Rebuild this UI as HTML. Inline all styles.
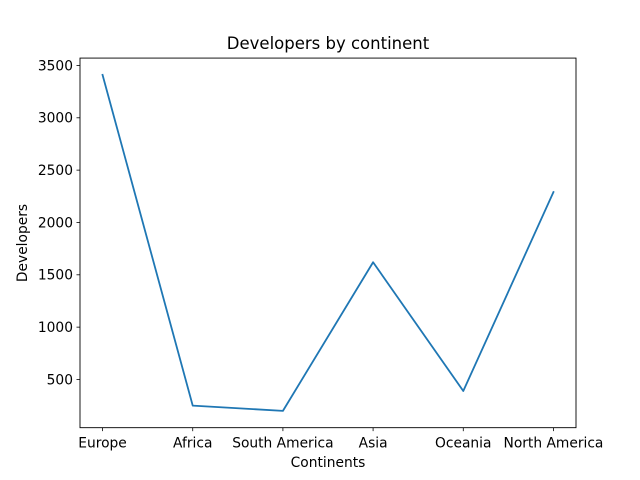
<!DOCTYPE html>
<html><head><meta charset="utf-8"><style>body{margin:0;background:#fff}svg{display:block}text{font-family:"DejaVu Sans","Liberation Sans",sans-serif;fill:#000}</style></head>
<body>
<svg id="chart" width="640" height="480" xmlns="http://www.w3.org/2000/svg">
<rect width="640" height="480" fill="#fff"/>
<text x="328" y="49" font-size="16.5" text-anchor="middle">Developers by continent</text>
<text x="328" y="467" font-size="13.8" text-anchor="middle">Continents</text>
<text x="27" y="243" font-size="13.8" text-anchor="middle" transform="rotate(-90 27 243)">Developers</text>
<g id="ticks"></g>
<polyline id="series" fill="none" stroke="#1f77b4" stroke-width="1.8" stroke-linejoin="round" stroke-linecap="square"/>
<rect x="80" y="58.08" width="496" height="369.6" fill="none" stroke="#000" stroke-width="0.9"/>
</svg>
<script>
const categories=["Europe","Africa","South America","Asia","Oceania","North America"];
const values=[3410,250,200,1620,390,2290];
const yTicks=[500,1000,1500,2000,2500,3000,3500];
const L=80,R=576,T=58.08,B=427.68;
const mn=Math.min(...values),mx=Math.max(...values),pad=(mx-mn)*0.05;
const y0=mn-pad,y1=mx+pad;
const xs=i=>L+(i+0.25)/(categories.length-1+0.5)*(R-L);
const ys=v=>B-(v-y0)/(y1-y0)*(B-T);
const NS="http://www.w3.org/2000/svg",g=document.getElementById('ticks');
function mk(t,a){const e=document.createElementNS(NS,t);for(const k in a)e.setAttribute(k,a[k]);g.appendChild(e);return e;}
categories.forEach((c,i)=>{const x=xs(i);
const l=mk('line',{x1:x,x2:x,y1:B,y2:B+3.5,stroke:'#000','stroke-width':0.8});


const t=mk('text',{x:x,y:B+20,'font-size':13.8,'text-anchor':'middle'});t.textContent=c;

});
yTicks.forEach(v=>{const y=ys(v);
const l=mk('line',{x1:L-3.5,x2:L,y1:y,y2:y,stroke:'#000','stroke-width':0.8});


const t=mk('text',{x:L-7,y:y+4.8,'font-size':13.8,'text-anchor':'end'});t.textContent=v;

});
document.getElementById('series').setAttribute('points',values.map((v,i)=>xs(i)+','+ys(v)).join(' '));
</script>
</body></html>
